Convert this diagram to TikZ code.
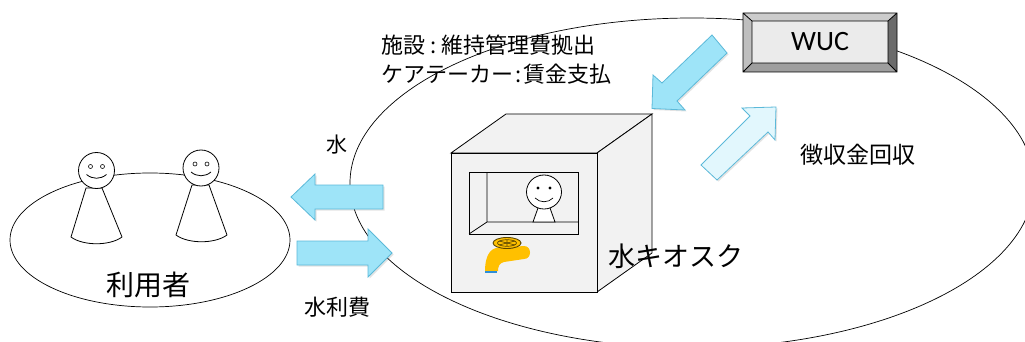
\documentclass[tikz,border=0pt]{standalone}
\usepackage{fontspec}
\newfontfamily\jpfont{Noto Sans CJK JP}
\newfontfamily\wucfont{Carlito}
\usetikzlibrary{shadows}
\definecolor{arrowfill}{HTML}{9EE4F8}
\definecolor{arrowline}{HTML}{5BB9D9}
\definecolor{palefill}{HTML}{E2F7FD}
\definecolor{kioskgray}{HTML}{F2F2F2}
\definecolor{tapyellow}{HTML}{FFC000}
\definecolor{tapline}{HTML}{5A4500}
\definecolor{tapblue}{HTML}{2E8FD8}
\tikzset{
  outline/.style={draw=black, line width=0.7pt},
  figure/.style={draw=black, line width=0.8pt, fill=white},
  kioskface/.style={draw=black, line width=0.8pt, fill=kioskgray},
  blockarrow/.style={draw=arrowline, line width=0.8pt, fill=arrowfill,
    drop shadow={shadow xshift=1.5pt, shadow yshift=-1.5pt, opacity=0.22}},
  palearrow/.style={draw=arrowline, line width=0.8pt, fill=palefill,
    drop shadow={shadow xshift=1.5pt, shadow yshift=-1.5pt, opacity=0.22}},
  jp/.style={inner sep=0pt, font=\jpfont\fontsize{#1pt}{#1pt}\selectfont},
}
\begin{document}
\begin{tikzpicture}[x=1pt, y=-1pt]
\useasboundingbox (0,0) rectangle (1025,342);
\fill[white] (0,0) rectangle (1025,342);

% organisation ring and user group
\draw[outline] (692,183) ellipse [x radius=342pt, y radius=165pt];
\draw[outline] (150,240) ellipse [x radius=140pt, y radius=67pt];

% two users
\foreach \hx/\hy/\tl/\tr/\bl/\br/\ty/\by in {96.5/170.5/86/102/71/122/188/237, 201/168/192/209/176/227/185/235}{
  \draw[figure] (\tl,\ty) -- (\bl,\by) .. controls (\bl+12,\by+9) and (\br-12,\by+9) .. (\br,\by) -- (\tr,\ty) -- cycle;
  \draw[figure] (\hx,\hy) circle [radius=18pt];
  \draw[line width=0.6pt] (\hx-6,\hy-4) circle [radius=2pt] (\hx+6,\hy-4) circle [radius=2pt];
  \draw[line width=0.8pt] (\hx-10,\hy+4) .. controls (\hx-4,\hy+9) and (\hx+4,\hy+9) .. (\hx+10,\hy+4);
}

% kiosk cube
\draw[kioskface] (451,153) -- (506,114) -- (652,114) -- (597,153) -- cycle;
\draw[kioskface] (597,153) -- (652,114) -- (652,253) -- (597,292) -- cycle;
\draw[kioskface] (451,153) rectangle (597,292);
% service window
\draw[kioskface] (469,172) rectangle (578,234);
\draw[line width=0.8pt] (487,172) -- (487,222) -- (578,222) (469,234) -- (487,222);
% attendant
\draw[figure] (538,208) -- (533,222) -- (555,222) -- (550,208);
\draw[figure] (544,192) ellipse [x radius=17.5pt, y radius=17pt];
\fill (538,188) circle [radius=1.6pt] (550,188) circle [radius=1.6pt];
\draw[line width=0.7pt] (535,198) .. controls (540,203) and (548,203) .. (553,198);

% tap
\fill[tapyellow] (496,248) -- (524,246) .. controls (532,246) and (532,259) .. (524,259)
  -- (504,262) .. controls (499,263) and (498,267) .. (498,271) -- (485,271)
  .. controls (485,260) and (488,250) .. (496,248) -- cycle;
\draw[tapblue, line width=1.5pt] (485,272) -- (497,272);
\draw[draw=tapline, fill=tapyellow, line width=0.9pt] (507,243) ellipse [x radius=14pt, y radius=5.5pt];
\draw[tapline, line width=0.7pt] (507,243) ellipse [x radius=9.5pt, y radius=3.3pt];
\draw[tapline, line width=0.7pt] (499,241) -- (515,245) (499,245) -- (515,241) (507,239.8) -- (507,246.2);

% WUC panel with bevelled frame
\fill[black!20] (743,13) -- (897,13) -- (888,21) -- (752,21) -- cycle;
\fill[black!25] (743,13) -- (752,21) -- (752,63) -- (743,72) -- cycle;
\fill[black!58] (897,13) -- (897,72) -- (888,63) -- (888,21) -- cycle;
\fill[black!38] (743,72) -- (897,72) -- (888,63) -- (752,63) -- cycle;
\fill[black!8] (752,21) rectangle (888,63);
\draw[line width=0.8pt] (743,13) rectangle (897,72) (752,21) rectangle (888,63)
  (743,13) -- (752,21) (897,13) -- (888,21) (743,72) -- (752,63) (897,72) -- (888,63);
\node[inner sep=0pt, font=\wucfont\fontsize{28pt}{28pt}\selectfont] (wuc) at (820,42) {WUC};

% flow arrows
\path[blockarrow] (383,185) -- (315,185) -- (315,174) -- (291,197) -- (315,220) -- (315,209) -- (383,209) -- cycle;
\path[blockarrow] (297,241) -- (368,241) -- (368,229) -- (392,253) -- (368,277) -- (368,265) -- (297,265) -- cycle;
\path[blockarrow] (712,35) -- (662,83) -- (653,75) -- (652,108.5) -- (685,110) -- (677,101) -- (727,53) -- cycle;
\path[palearrow] (701,165) -- (750,116) -- (742,108) -- (776,107) -- (775,140) -- (768,132) -- (717,180) -- cycle;

% labels
\node[jp=22, anchor=west] (costs1) at (381,45.5) {施設\hspace{5pt}:\hspace{5pt}維持管理費拠出};
\node[jp=22, anchor=west] (costs2) at (381,74.5) {ケアテーカー\hspace{2pt}:\hspace{2pt}賃金支払};
\node[jp=21] (water) at (337,145) {水};
\node[jp=22] (fee) at (337.5,307.5) {水利費};
\node[jp=28] (users) at (148.5,285) {利用者};
\node[jp=27] (kiosk) at (676,256) {水キオスク};
\node[jp=23] (collect) at (858,155) {徴収金回収};
\end{tikzpicture}
\end{document}
